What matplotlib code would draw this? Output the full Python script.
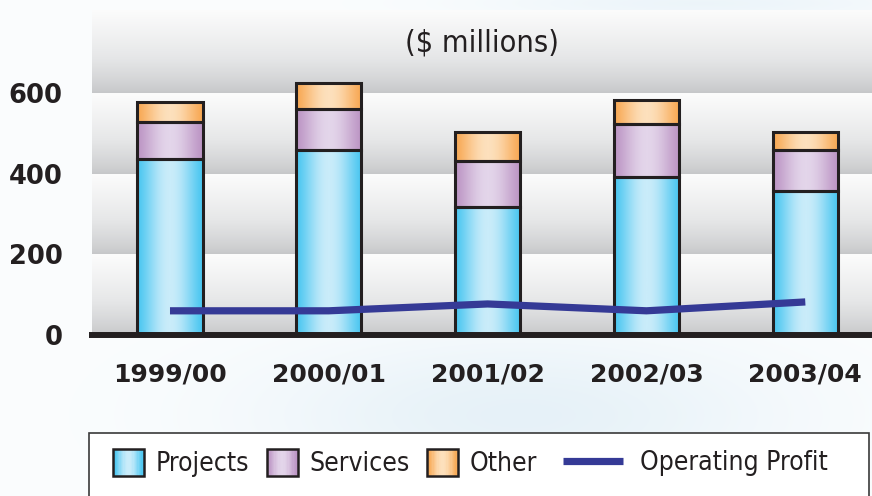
import numpy as np
import matplotlib.pyplot as plt
from matplotlib.patches import Rectangle
from matplotlib.lines import Line2D
from matplotlib.legend_handler import HandlerBase
from matplotlib.colors import LinearSegmentedColormap, to_rgb

years = ['1999/00', '2000/01', '2001/02', '2002/03', '2003/04']
projects = [437, 459, 318, 392, 358]
services = [91, 101, 113, 131, 101]
other = [50, 64, 73, 60, 45]
operating_profit = [60, 60, 77, 60, 82]

EDGE = '#231f20'
LINE_COL = '#353a96'
# (edge colour, centre colour) of the shaded bars
shades = {
    'Projects': ('#4cc7f1', '#c9ecfa'),
    'Services': ('#bd96c5', '#e3d5ea'),
    'Other': ('#f8a955', '#fde0bc'),
}


def bar_profile(n=64):
    t = np.linspace(-1, 1, n)
    return np.cos(t * np.pi / 2) ** 1.4


def shade_cmap(edge, mid):
    return LinearSegmentedColormap.from_list('s', [edge, mid])


class GradientHandler(HandlerBase):
    def __init__(self, edge, mid):
        super().__init__()
        self.cmap = shade_cmap(edge, mid)

    def create_artists(self, legend, orig_handle, xdescent, ydescent,
                       width, height, fontsize, trans):
        prof = bar_profile(24)
        n = len(prof)
        arts = []
        for i, v in enumerate(prof):
            arts.append(Rectangle((-xdescent + i * width / n, -ydescent),
                                  width / n * 1.1, height, fc=self.cmap(v),
                                  ec='none', transform=trans))
        arts.append(Rectangle((-xdescent, -ydescent), width, height,
                              fc='none', ec=EDGE, lw=1.8, transform=trans))
        return arts


W, H = 872, 496
fig = plt.figure(figsize=(W / 100, H / 100), dpi=100)
fig.patch.set_facecolor('#f9fbfd')

# soft sky background
bg = fig.add_axes([0, 0, 1, 1], zorder=-10)
bg.axis('off')
yy, xx = np.mgrid[0:H, 0:W]
a = (0.5 * np.exp(-(((xx - 520) / 260.0) ** 2 + ((yy - 415) / 80.0) ** 2))
     + 0.35 * np.exp(-(((xx - 700) / 220.0) ** 2 + ((yy - 3) / 18.0) ** 2)))
a = np.clip(a, 0, 1)[..., None]
img = (1 - a) * np.array(to_rgb('#fbfdfe')) + a * np.array(to_rgb('#d2e6f2'))
bg.imshow(img, aspect='auto', extent=(0, 1, 0, 1), origin='upper')
bg.set_xlim(0, 1)
bg.set_ylim(0, 1)

ax = fig.add_axes([92 / W, 1 - 335 / H, 1 - 92 / W, 325 / H])
x = np.arange(len(years))
xlo, xhi = -0.491, 4.42
ylo, yhi = 0, 806

# banded grey background, each 200 band fading white -> grey
band_cmap = LinearSegmentedColormap.from_list('band', ['#c6c7c9', '#e6e7e8', '#fcfcfc'])
grad = np.linspace(0, 1, 100)[:, None] ** 0.8
for y0 in range(0, 800, 200):
    top = yhi if y0 == 600 else y0 + 200
    ax.imshow(grad, cmap=band_cmap, aspect='auto', origin='lower',
              extent=(xlo, xhi, y0, top), zorder=0, vmin=0, vmax=1)

bottoms = [np.zeros(len(x)), np.array(projects), np.array(projects) + np.array(services)]
for vals, bot, name in zip([projects, services, other], bottoms, ['Projects', 'Services', 'Other']):
    bars = ax.bar(x, vals, bottom=bot, width=0.41, facecolor='none',
                  edgecolor=EDGE, linewidth=2.2, zorder=3)
    cmap = shade_cmap(*shades[name])
    prof = bar_profile()[None, :]
    for b in bars:
        im = ax.imshow(prof, cmap=cmap, aspect='auto', vmin=0, vmax=1,
                       extent=(b.get_x(), b.get_x() + b.get_width(),
                               b.get_y(), b.get_y() + b.get_height()), zorder=2)
        im.set_clip_path(b)

ax.plot(x, operating_profit, color=LINE_COL, lw=5.2, zorder=4, solid_capstyle='butt')

ax.set_xlim(xlo, xhi)
ax.set_ylim(ylo, yhi)
for s in ['top', 'right', 'left']:
    ax.spines[s].set_visible(False)
ax.spines['bottom'].set_linewidth(4.3)
ax.spines['bottom'].set_color(EDGE)
ax.spines['bottom'].set_zorder(5)

ax.set_yticks([0, 200, 400, 600])
ax.set_yticklabels(['0', '200', '400', '600'], fontsize=18.5, fontweight='bold', color=EDGE)
ax.set_xticks(x)
ax.set_xticklabels(years, fontsize=18, fontweight='bold', color=EDGE)
ax.tick_params(axis='y', length=0, pad=21)
ax.tick_params(axis='x', length=0, pad=20)

ax.text(0.5, 0.90, '($ millions)', transform=ax.transAxes, ha='center', va='center',
        fontsize=22, family='DejaVu Sans', fontstretch='condensed', color=EDGE)

# legend frame
fig.add_artist(Rectangle((89 / W, -0.05), (869 - 89) / W, 1 - 433 / H + 0.05,
                         transform=fig.transFigure, fc='white', ec='#3a3a3a',
                         lw=1.2, zorder=1))

proxies = [Rectangle((0, 0), 1, 1) for _ in range(3)]
hmap = {p: GradientHandler(*shades[n]) for p, n in zip(proxies, ['Projects', 'Services', 'Other'])}
prop = dict(family='DejaVu Sans', stretch='condensed', size=19)
leg_y = 1 - 463 / H
fig.legend(proxies, ['Projects', 'Services', 'Other'], handler_map=hmap,
           loc='center left', bbox_to_anchor=(113 / W, leg_y), ncol=3, frameon=False,
           prop=prop, handlelength=1.17, handleheight=1.21, handletextpad=0.45,
           columnspacing=0.66, borderpad=0, borderaxespad=0, labelcolor=EDGE)
fig.legend([Line2D([], [], color=LINE_COL, lw=5.2, solid_capstyle='butt')],
           ['Operating Profit'], loc='center left', bbox_to_anchor=(563 / W, leg_y),
           frameon=False, prop=prop, handlelength=2.27, handletextpad=0.64,
           borderpad=0, borderaxespad=0, labelcolor=EDGE)

fig.savefig('out.png', dpi=100)
